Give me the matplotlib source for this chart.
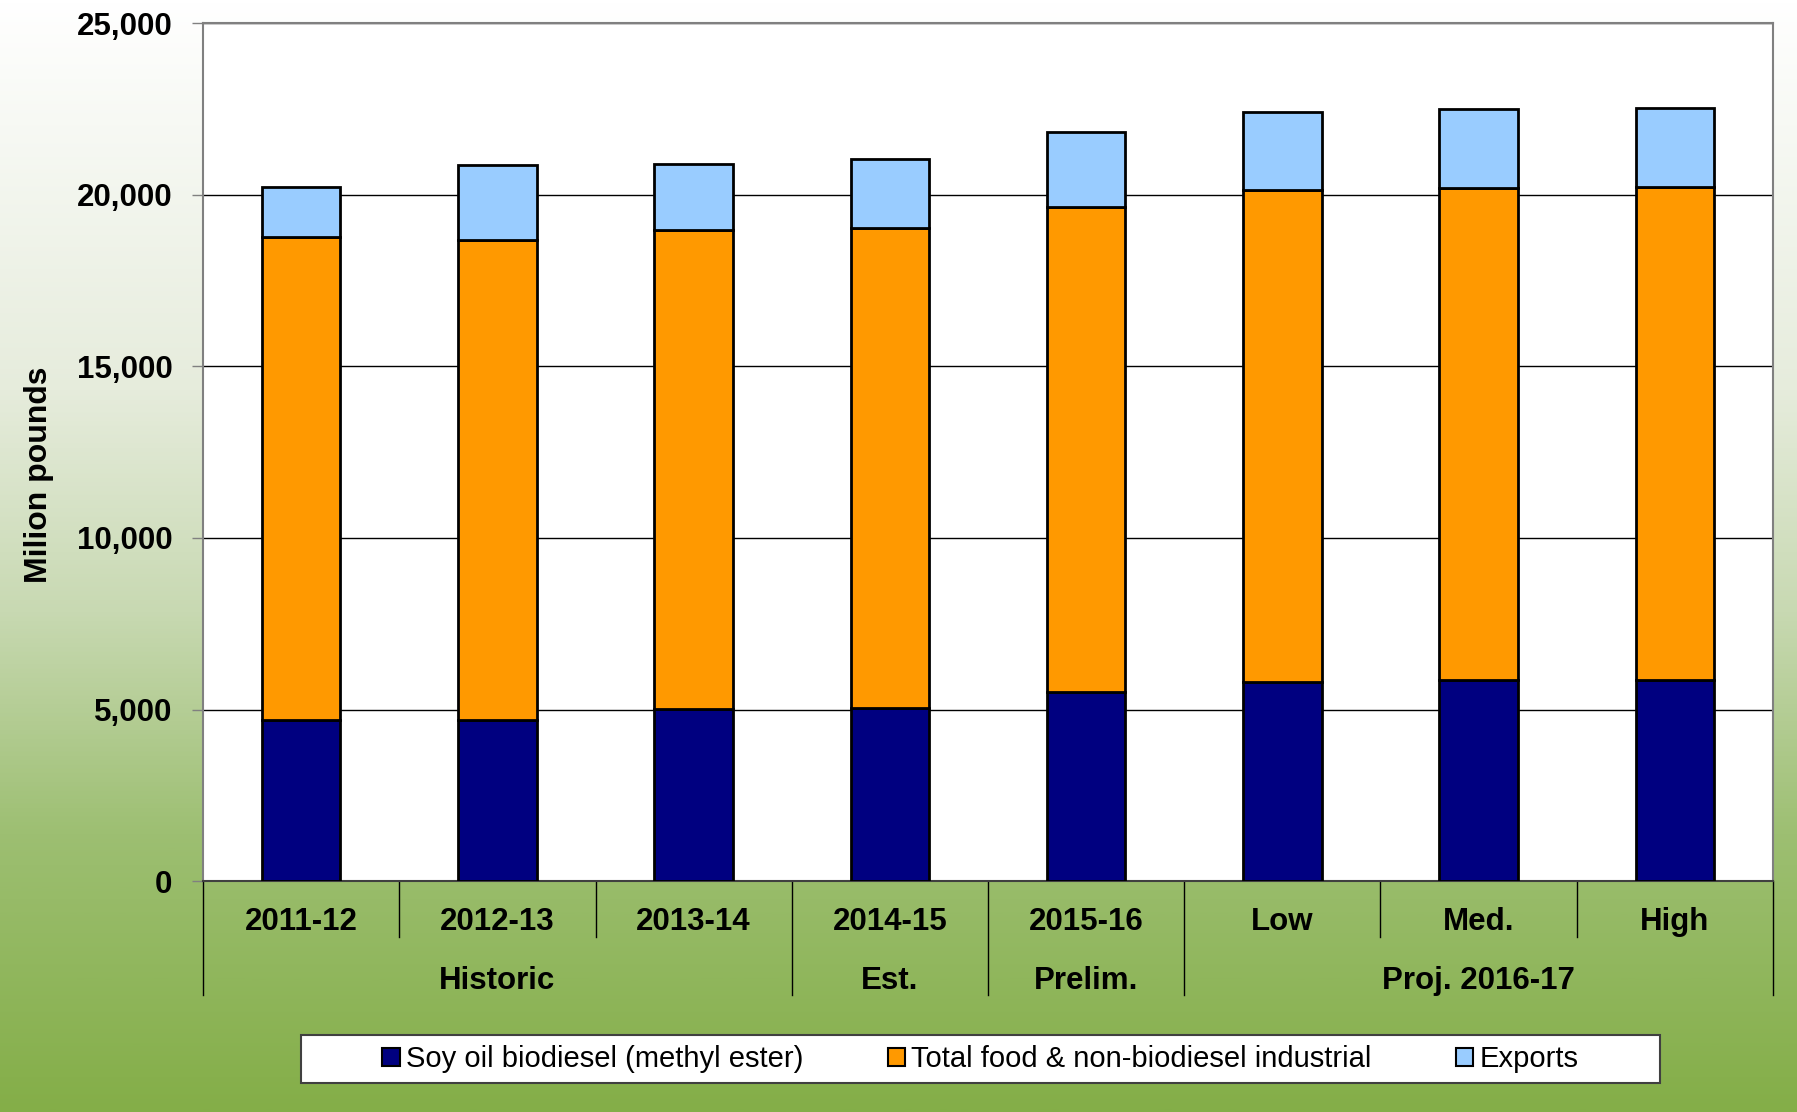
import numpy as np
import matplotlib
matplotlib.use("Agg")
import matplotlib.pyplot as plt
from matplotlib.colors import LinearSegmentedColormap
from matplotlib.patches import Patch, Rectangle

plt.rcParams['font.family'] = ['Liberation Sans', 'DejaVu Sans']

# data (million pounds)
categories = ['2011-12', '2012-13', '2013-14', '2014-15', '2015-16', 'Low', 'Med.', 'High']
groups = ['Historic', 'Est.', 'Prelim.', 'Proj. 2016-17']
group_sizes = [3, 1, 1, 3]
biodiesel = [4700, 4700, 5010, 5040, 5510, 5810, 5870, 5870]
food_industrial = [14060, 13990, 13980, 13990, 14150, 14320, 14330, 14360]
exports = [1460, 2170, 1900, 2030, 2170, 2300, 2300, 2300]
series_names = ['Soy oil biodiesel (methyl ester)', 'Total food & non-biodiesel industrial', 'Exports']
colors = ['#000080', '#FF9900', '#99CCFF']

fig = plt.figure(figsize=(17.97, 11.12), dpi=100)

# gradient background
bg = fig.add_axes([0, 0, 1, 1], zorder=-10)
cmap = LinearSegmentedColormap.from_list('bg', [(0, '#ffffff'), (0.35, '#e6ecdc'), (0.55, '#c8d9b2'),
                                                (0.75, '#9dbf72'), (1.0, '#84ae48')])
grad = np.linspace(0, 1, 512).reshape(-1, 1)
bg.imshow(grad, aspect='auto', cmap=cmap, extent=[0, 1, 0, 1], origin='upper')
bg.axis('off')

ax = fig.add_axes([0.113, 0.2077, 0.8736, 0.7713])
ax.set_facecolor('white')
x = np.arange(len(categories))
w = 0.4
bottom2 = np.array(biodiesel) + np.array(food_industrial)
ax.bar(x, biodiesel, w, color=colors[0], edgecolor='black', linewidth=2, zorder=3)
ax.bar(x, food_industrial, w, bottom=biodiesel, color=colors[1], edgecolor='black', linewidth=2, zorder=3)
ax.bar(x, exports, w, bottom=bottom2, color=colors[2], edgecolor='black', linewidth=2, zorder=3)

ax.set_xlim(-0.5, len(categories) - 0.5)
ax.set_ylim(0, 25000)
ax.set_yticks(range(0, 25001, 5000))
ax.set_yticklabels([f'{v:,}' for v in range(0, 25001, 5000)], fontsize=22.5, fontweight='bold')
ax.yaxis.grid(True, color='black', linewidth=1, zorder=0)
ax.set_axisbelow(True)
ax.tick_params(axis='y', length=8, width=1, color='#808080', pad=14)
ax.set_xticks([])
for s in ['left', 'top', 'right']:
    ax.spines[s].set_color('#808080')
    ax.spines[s].set_linewidth(1.5)
ax.spines['bottom'].set_color('#404040')
ax.spines['bottom'].set_linewidth(1.5)

ax.set_ylabel('Milion pounds', fontsize=23, fontweight='bold')
ax.yaxis.set_label_coords(-0.095, 0.474)

# category labels and separators below axis
trans = ax.get_xaxis_transform()
for i, c in enumerate(categories):
    ax.text(i, -0.048, c, transform=trans, ha='center', va='center', fontsize=22.5, fontweight='bold')
edges = np.cumsum([0] + group_sizes) - 0.5
for b in np.arange(len(categories) + 1) - 0.5:
    low = -0.133 if b in edges else -0.0653
    ax.plot([b, b], [0, low], transform=trans, color='black', linewidth=1, clip_on=False)
start = 0
for g, n in zip(groups, group_sizes):
    center = start + (n - 1) / 2
    ax.text(center, -0.116, g, transform=trans, ha='center', va='center', fontsize=22.5, fontweight='bold')
    start += n

# legend box
box = Rectangle((0.1675, 0.026), 0.756, 0.043, transform=fig.transFigure, facecolor='white',
                edgecolor='#404040', linewidth=1.5, zorder=1)
fig.patches.append(box)
handles = [Patch(facecolor=colors[i], edgecolor='black', linewidth=1.5, label=series_names[i]) for i in range(3)]
leg = fig.legend(handles=handles, loc='center', ncol=3, bbox_to_anchor=(0.5455, 0.0475),
                 fontsize=21, frameon=False, handlelength=0.6, handleheight=0.6,
                 handletextpad=0.2, columnspacing=2.9, borderaxespad=0)

fig.savefig('out.png', dpi=100)
